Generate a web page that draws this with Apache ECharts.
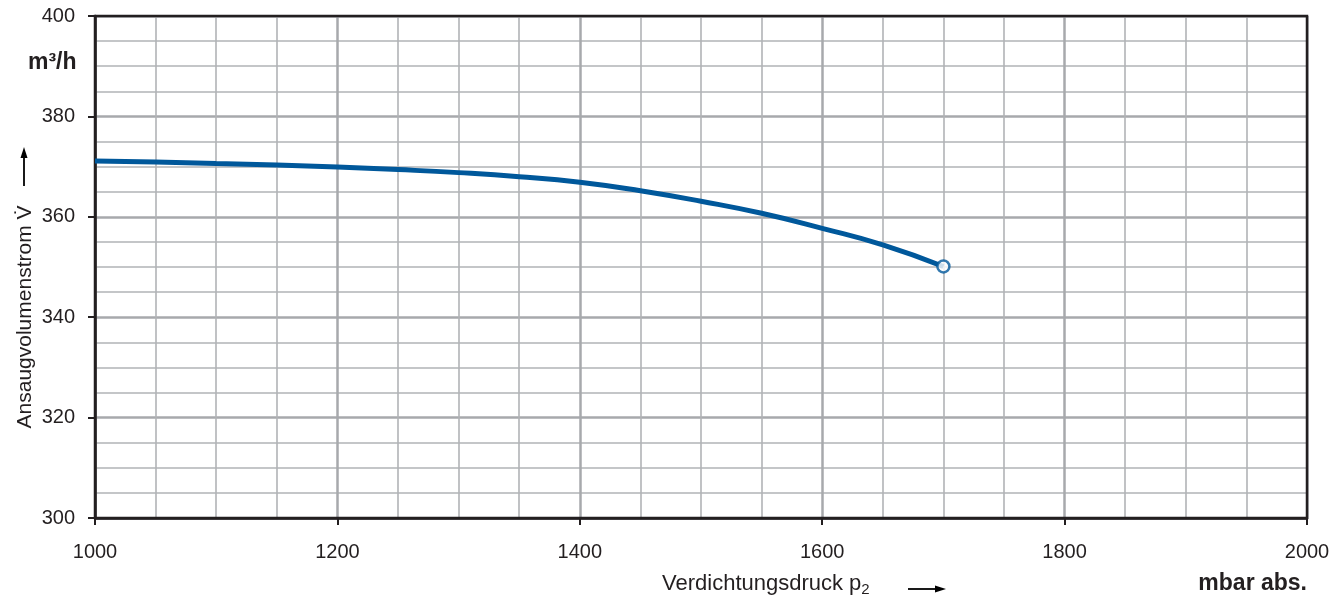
<!DOCTYPE html>
<html>
<head>
<meta charset="utf-8">
<script src="https://cdn.jsdelivr.net/npm/echarts@6/dist/echarts.min.js"></script>
<style>
html,body{margin:0;padding:0;background:#fff;}
#c{width:1342px;height:599px;}
</style>
</head>
<body>
<div id="c"></div>
<script>
var pressure = [1000, 1050, 1100, 1150, 1200, 1250, 1300, 1350, 1400, 1450, 1500, 1550, 1600, 1650, 1700];
var volumeFlow = [371.1, 370.9, 370.6, 370.3, 369.9, 369.4, 368.8, 368.0, 366.9, 365.2, 363.1, 360.7, 357.7, 354.4, 350.1];
var xTicks = [1000, 1200, 1400, 1600, 1800, 2000];
var yTicks = [300, 320, 340, 360, 380, 400];

var lineData = pressure.map(function(p, i){ return [p, volumeFlow[i]]; });
var endPoint = [[pressure[pressure.length-1], volumeFlow[volumeFlow.length-1]]];

var FONT = '"Liberation Sans", Arial, Helvetica, sans-serif';
var TXT = '#231f20';
var chart = echarts.init(document.getElementById('c'), null, {renderer:'canvas'});
chart.setOption({
  animation:false,
  backgroundColor:'#fff',
  grid:{left:95, top:16, right:35, bottom:81, show:true, borderColor:TXT, borderWidth:2.5, backgroundColor:'transparent', z:3},
  xAxis:{
    type:'value', min:xTicks[0], max:xTicks[xTicks.length-1], interval:200,
    axisLine:{show:true, onZero:false, lineStyle:{color:TXT, width:2.5}},
    axisTick:{show:true, length:7, lineStyle:{color:TXT, width:2}},
    axisLabel:{margin:24, fontSize:20, color:TXT, fontFamily:FONT, formatter:function(v){return String(v);}},
    splitLine:{show:true, lineStyle:{color:'#a7a9ac', width:2.5}},
    minorTick:{show:false, splitNumber:4},
    minorSplitLine:{show:true, lineStyle:{color:'#b1b3b6', width:1.6}}
  },
  yAxis:{
    type:'value', min:yTicks[0], max:yTicks[yTicks.length-1], interval:20,
    axisLine:{show:true, onZero:false, lineStyle:{color:TXT, width:2.5}},
    axisTick:{show:true, length:7, lineStyle:{color:TXT, width:2}},
    axisLabel:{margin:20, fontSize:20, color:TXT, fontFamily:FONT, formatter:function(v){return String(v);}},
    splitLine:{show:true, lineStyle:{color:'#a7a9ac', width:2.5}},
    minorTick:{show:false, splitNumber:4},
    minorSplitLine:{show:true, lineStyle:{color:'#b1b3b6', width:1.6}}
  },
  series:[
    {type:'line', data:lineData, smooth:0.5, symbol:'none', z:5,
     lineStyle:{color:'#00589b', width:5}},
    {type:'scatter', data:endPoint, symbol:'circle', symbolSize:12, z:6,
     itemStyle:{color:'#fff', borderColor:'#00589b', borderWidth:2.5}}
  ],
  graphic:[
    {type:'text', x:28, y:63, style:{text:'m³/h', font:'bold 23px '+FONT, fill:TXT, textVerticalAlign:'middle'}},
    {type:'text', x:25, y:317, rotation:Math.PI/2, style:{text:'Ansaugvolumenstrom V\u0307', font:'21px '+FONT, fill:TXT, textAlign:'center', textVerticalAlign:'middle'}},
    {type:'line', shape:{x1:24, y1:186, x2:24, y2:157}, style:{stroke:'#000', lineWidth:1.8}},
    {type:'polygon', shape:{points:[[24,147],[20.5,158],[27.5,158]]}, style:{fill:'#000'}},
    {type:'text', x:662, y:584, style:{
      text:'Verdichtungsdruck p{sub|2}', font:'22px '+FONT, fill:TXT, textVerticalAlign:'middle',
      rich:{sub:{fontSize:15, fontFamily:FONT, fill:TXT, padding:[12,0,0,0]}}}},
    {type:'line', shape:{x1:908, y1:589, x2:936, y2:589}, style:{stroke:'#000', lineWidth:1.8}},
    {type:'polygon', shape:{points:[[946,589],[935,585.5],[935,592.5]]}, style:{fill:'#000'}},
    {type:'text', x:1307, y:584, style:{text:'mbar abs.', font:'bold 23px '+FONT, fill:TXT, textAlign:'right', textVerticalAlign:'middle'}}
  ]
});
</script>
</body>
</html>
